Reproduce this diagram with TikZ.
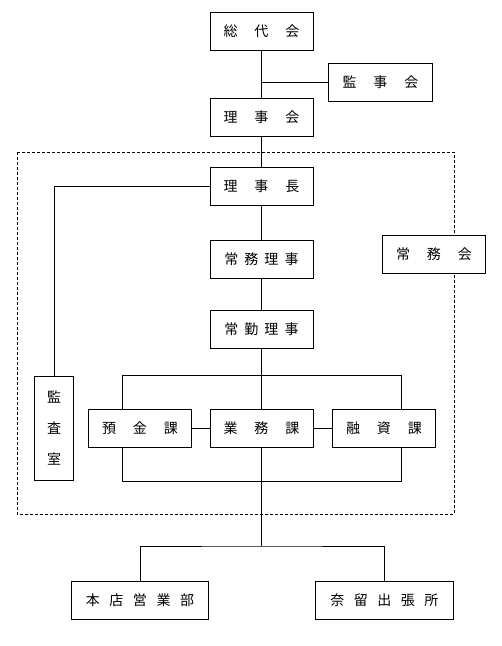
\documentclass[tikz,border=0pt]{standalone}
\usepackage{fontspec}
\newfontfamily\jp{Noto Sans CJK JP}
\usepackage{tikz}

\newcommand{\wa}{\hspace{1.2em}}
\newcommand{\wb}{\hspace{0.43em}}
\newcommand{\wc}{\hspace{0.68em}}

\begin{document}
\begin{tikzpicture}[x=1pt,y=-1pt,line width=0.8pt,
        box/.style={draw, fill=white, minimum width=103pt, minimum height=38pt,
            inner sep=0pt, font=\jp\fontsize{14}{31}\selectfont, align=center}]
        \useasboundingbox (0,0) rectangle (502,646);

        \draw[dashed, dash pattern=on 3pt off 2pt, line width=0.6pt] (17,152) rectangle (454,514);

        \node[box] (soudai) at (261.5,31) {総\wa 代\wa 会};
        \node[box, minimum width=104pt] (kanji) at (380.5,82) {監\wa 事\wa 会};
        \node[box] (rijikai) at (261.5,117.5) {理\wa 事\wa 会};
        \node[box] (richo) at (261.5,186) {理\wa 事\wa 長};
        \node[box] (jomuriji) at (261.5,259) {常\wb 務\wb 理\wb 事};
        \node[box] (jomukai) at (434,254.5) {常\wa 務\wa 会};
        \node[box] (jokin) at (261.5,329) {常\wb 勤\wb 理\wb 事};
        \node[box, minimum width=39pt, minimum height=104pt] (kansa) at (54,428.3) {監\\査\\室};
        \node[box] (yokin) at (140,428.3) {預\wa 金\wa 課};
        \node[box] (gyomu) at (261.5,428.3) {業\wa 務\wa 課};
        \node[box] (yushi) at (384,428.3) {融\wa 資\wa 課};
        \node[box, minimum width=137pt] (honten) at (140,600.5) {本\wc 店\wc 営\wc 業\wc 部};
        \node[box, minimum width=138pt] (naru) at (384.3,600.5) {奈\wc 留\wc 出\wc 張\wc 所};

        % bracket corners round the three sections
        \coordinate (ul) at (122.3,375.3);
        \coordinate (ur) at (401.3,375.3);
        \coordinate (ll) at (122.3,481.3);
        \coordinate (lr) at (401.3,481.3);
        \coordinate (br) at (261.5,546);

        \draw (soudai) -- (rijikai);
        \draw (kanji.west) -- (soudai.south |- kanji.west);
        \draw (rijikai) -- (richo);
        \draw (richo) -- (jomuriji);
        \draw (jomuriji) -- (jokin);
        \draw (richo.west) -| (kansa.north);
        \draw (jokin) -- (gyomu);
        \draw (yokin.north -| ul) -- (ul) -- (ur) -- (yushi.north -| ur);
        \draw (yokin.south -| ll) -- (ll) -- (lr) -- (yushi.south -| lr);
        \draw (yokin) -- (gyomu);
        \draw (gyomu) -- (yushi);
        \draw (gyomu.south) -- (br);
        \draw (honten.north) |- (br) -| (naru.north);
    \end{tikzpicture}
\end{document}
